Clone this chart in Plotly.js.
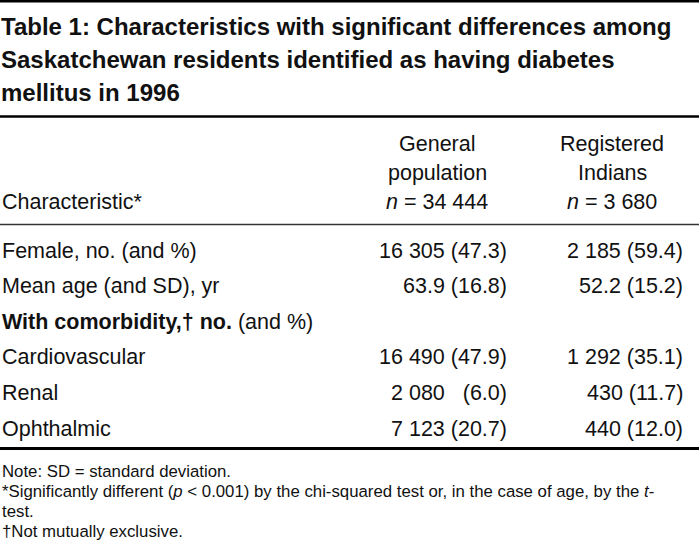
<!DOCTYPE html>
<html>
<head>
<meta charset="utf-8">
<script src="https://cdn.plot.ly/plotly-3.0.1.min.js"></script>
<style>html,body{margin:0;padding:0;background:#fff;}#chart{width:699px;height:552px;}</style>
</head>
<body>
<div id="chart"></div>
<script>
// ---- Data ----
const titleLines = [
  "Table 1: Characteristics with significant differences among",
  "Saskatchewan residents identified as having diabetes",
  "mellitus in 1996"
];
const headerCharacteristic = "Characteristic*";
const headerGeneral = ["General", "population", "<i>n</i> = 34 444"];
const headerRegistered = ["Registered", "Indians", "<i>n</i> = 3 680"];
const characteristics = [
  "Female, no. (and %)",
  "Mean age (and SD), yr",
  "<b>With comorbidity,† no.</b> (and %)",
  "Cardiovascular",
  "Renal",
  "Ophthalmic"
];
const generalPopulation = ["16 305 (47.3)", "63.9 (16.8)", "", "16 490 (47.9)", "2 080 \u2007(6.0)", "7 123 (20.7)"];
const registeredIndians = ["2 185 (59.4)", "52.2 (15.2)", "", "1 292 (35.1)", "430 (11.7)", "440 (12.0)"];
const notes = [
  "Note: SD = standard deviation.",
  "*Significantly different (<i>p</i> < 0.001) by the chi-squared test or, in the case of age, by the <i>t</i>-",
  "test.",
  "†Not mutually exclusive."
];

// ---- Layout helpers ----
const W = 699, H = 552;
const bodyFont = "Liberation Sans, Arial, sans-serif";
const titleFont = "Liberation Sans, Arial, sans-serif";
const ink = "#111";
const annotations = [];
function txt(text, x, baseline, size, anchor, family) {
  annotations.push({
    text: text, x: x, y: baseline - size * 0.34, xref: "x", yref: "y",
    xanchor: anchor, yanchor: "middle", showarrow: false, align: anchor,
    font: {family: family || bodyFont, size: size, color: ink},
    borderpad: 0
  });
}

titleLines.forEach((t, i) => txt("<b>" + t + "</b>", 0, 35 + i * 33, 24, "left", titleFont));

const headerBase = [151, 180, 209];
txt(headerCharacteristic, 1, headerBase[2], 21.5, "left");
headerGeneral.forEach((t, i) => txt(t, 437, headerBase[i], 21.5, "center"));
headerRegistered.forEach((t, i) => txt(t, 612, headerBase[i], 21.5, "center"));

characteristics.forEach((c, i) => {
  const b = 258 + i * 35.6;
  txt(c, 1, b, 21.5, "left");
  if (generalPopulation[i]) txt(generalPopulation[i], 508, b, 21.5, "right");
  if (registeredIndians[i]) txt(registeredIndians[i], 684, b, 21.5, "right");
});

notes.forEach((n, i) => txt(n, 1, 477 + i * 20, 16.8, "left"));

const shapes = [
  {type: "line", x0: 0, x1: W, y0: 1, y1: 1, line: {color: "#000", width: 3}},
  {type: "line", x0: 0, x1: W, y0: 116.5, y1: 116.5, line: {color: "#000", width: 2.5}},
  {type: "line", x0: 0, x1: W, y0: 224.5, y1: 224.5, line: {color: "#333", width: 1.5}},
  {type: "line", x0: 0, x1: W, y0: 448.5, y1: 448.5, line: {color: "#000", width: 3}}
].map(s => Object.assign({xref: "x", yref: "y", layer: "above"}, s));

Plotly.newPlot("chart", [], {
  width: W, height: H,
  margin: {l: 0, r: 0, t: 0, b: 0, pad: 0},
  paper_bgcolor: "#fff", plot_bgcolor: "#fff",
  xaxis: {range: [0, W], visible: false, fixedrange: true},
  yaxis: {range: [H, 0], visible: false, fixedrange: true},
  showlegend: false,
  annotations: annotations,
  shapes: shapes
}, {staticPlot: true, displayModeBar: false});
</script>
</body>
</html>
